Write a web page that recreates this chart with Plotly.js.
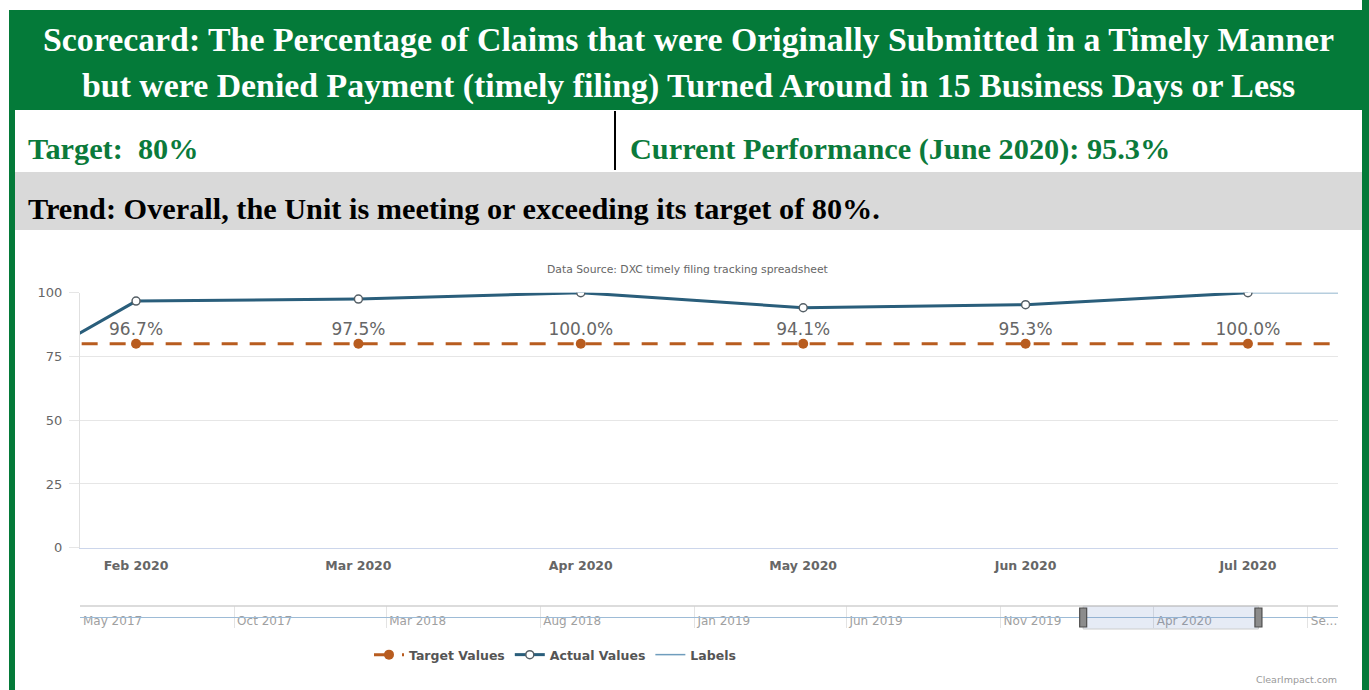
<!DOCTYPE html>
<html>
<head>
<meta charset="utf-8">
<script src="https://cdn.plot.ly/plotly-3.0.1.min.js"></script>
<style>
  html, body { margin: 0; padding: 0; background: #ffffff; }
  #chart { width: 1369px; height: 690px; }
</style>
</head>
<body>
<div id="chart"></div>
<script>
// ---------------- data ----------------
const months = ['Jan 2020', 'Feb 2020', 'Mar 2020', 'Apr 2020', 'May 2020', 'Jun 2020', 'Jul 2020', 'Aug 2020'];
const actualValues = [47, 96.7, 97.5, 100, 94.1, 95.3, 100, null];
const targetValues = [80, 80, 80, 80, 80, 80, 80, 80];
const labelsValues = [47, 96.7, 97.5, 100, 94.1, 95.3, 100, 100];
const labelMonths = ['Feb 2020', 'Mar 2020', 'Apr 2020', 'May 2020', 'Jun 2020', 'Jul 2020'];
const labelTexts = ['96.7%', '97.5%', '100.0%', '94.1%', '95.3%', '100.0%'];
const yTicks = [0, 25, 50, 75, 100];
const navTickDates = ['2017-05-01', '2017-10-01', '2018-03-01', '2018-08-01', '2019-01-01', '2019-06-01', '2019-11-01', '2020-04-01', '2020-09-01'];
const navTickLabels = ['May 2017', 'Oct 2017', 'Mar 2018', 'Aug 2018', 'Jan 2019', 'Jun 2019', 'Nov 2019', 'Apr 2020', 'Se...'];
const navRange = ['2017-05-01', '2020-10-01'];
const navSelected = ['2020-01-22', '2020-07-14'];

const titleLine1 = 'Scorecard: The Percentage of Claims that were Originally Submitted in a Timely Manner';
const titleLine2 = 'but were Denied Payment (timely filing) Turned Around in 15 Business Days or Less';
const targetText = 'Target:\u00a0 80%';
const currentText = 'Current Performance (June 2020): 95.3%';
const trendText = 'Trend: Overall, the Unit is meeting or exceeding its target of 80%.';
const sourceText = 'Data Source: DXC timely filing tracking spreadsheet';
const creditText = 'ClearImpact.com';

// ---------------- helpers ----------------
const W = 1369, H = 690;
const px = x => x / W;
const py = y => 1 - y / H;
const GREEN = '#047a39';
const SERIF = 'Liberation Serif';
const SANS = 'DejaVu Sans';

const cvs = document.createElement('canvas').getContext('2d');
function fitSize(text, family, weight, targetWidth) {
  cvs.font = weight + ' 100px "' + family + '"';
  const w = cvs.measureText(text).width;
  return 100 * targetWidth / w;
}
const titleSize = fitSize(titleLine1, SERIF, 'bold', 1293);
const trendSize = fitSize(trendText, SERIF, 'bold', 874);
const currentSize = fitSize(currentText, SERIF, 'bold', 527);
const rowSize = (trendSize + currentSize) / 2;

// ---------------- traces ----------------
const traces = [
  {
    type: 'scatter', mode: 'lines', name: 'Labels',
    x: months, y: labelsValues,
    line: { color: '#6f9dbd', width: 1.5 },
    legendrank: 3, hoverinfo: 'skip'
  },
  {
    type: 'scatter', mode: 'lines+markers', name: 'Target Values',
    x: months, y: targetValues,
    line: { color: '#b85c1f', width: 3, dash: '16px,12px' },
    marker: { color: '#b85c1f', size: 10, symbol: 'circle' },
    legendrank: 1
  },
  {
    type: 'scatter', mode: 'lines+markers', name: 'Actual Values',
    x: months, y: actualValues,
    line: { color: '#2a5e7b', width: 3 },
    marker: { color: '#ffffff', size: 8, line: { color: '#555f66', width: 1.5 } },
    legendrank: 2
  },
  {
    type: 'scatter', mode: 'text', showlegend: false, hoverinfo: 'skip',
    x: labelMonths, y: labelMonths.map(() => 85),
    text: labelTexts, textposition: 'middle center',
    textfont: { family: SANS, size: 17, color: '#666666' }
  }
];

// ---------------- layout ----------------
const shapes = [
  { type: 'rect', xref: 'paper', yref: 'paper', x0: px(1362), x1: 1, y0: 0, y1: 1, fillcolor: GREEN, line: { width: 0 }, layer: 'below' },
  { type: 'rect', xref: 'paper', yref: 'paper', x0: px(9), x1: 1, y0: py(110), y1: py(10), fillcolor: GREEN, line: { width: 0 }, layer: 'below' },
  { type: 'rect', xref: 'paper', yref: 'paper', x0: px(9), x1: px(15), y0: 0, y1: py(10), fillcolor: GREEN, line: { width: 0 }, layer: 'below' },
  { type: 'rect', xref: 'paper', yref: 'paper', x0: px(15), x1: px(1362), y0: py(230), y1: py(172), fillcolor: '#d9d9d9', line: { width: 0 }, layer: 'below' },
  { type: 'line', xref: 'paper', yref: 'paper', x0: px(615), x1: px(615), y0: py(170), y1: py(111), line: { color: '#000000', width: 2 } },
  { type: 'line', xref: 'x2 domain', yref: 'paper', x0: 0, x1: 1, y0: py(606), y1: py(606), line: { color: '#d0d0d0', width: 1.5 } },
  { type: 'line', xref: 'x2 domain', yref: 'paper', x0: 0, x1: 1, y0: py(617.5), y1: py(617.5), line: { color: '#9dbbd6', width: 1 } },
  { type: 'rect', xref: 'x2', yref: 'paper', x0: navSelected[0], x1: navSelected[1], y0: py(629), y1: py(606), fillcolor: 'rgba(102,133,194,0.16)', line: { color: '#cccccc', width: 1 } },
  { type: 'rect', xref: 'x2', yref: 'paper', xsizemode: 'pixel', xanchor: navSelected[0], x0: -3.5, x1: 3.5, y0: py(627), y1: py(608), fillcolor: '#8c8c8c', line: { color: '#4d4d4d', width: 1.2 } },
  { type: 'rect', xref: 'x2', yref: 'paper', xsizemode: 'pixel', xanchor: navSelected[1], x0: -3.5, x1: 3.5, y0: py(627), y1: py(608), fillcolor: '#8c8c8c', line: { color: '#4d4d4d', width: 1.2 } }
];

const annotations = [
  { text: '<b>' + titleLine1 + '</b>', xref: 'paper', yref: 'paper', x: px(688), y: py(39), xanchor: 'center', yanchor: 'middle', showarrow: false, font: { family: SERIF, size: titleSize, color: '#ffffff' } },
  { text: '<b>' + titleLine2 + '</b>', xref: 'paper', yref: 'paper', x: px(688), y: py(86.5), xanchor: 'center', yanchor: 'middle', showarrow: false, font: { family: SERIF, size: titleSize, color: '#ffffff' } },
  { text: '<b>' + targetText + '</b>', xref: 'paper', yref: 'paper', x: px(26), y: py(149), xanchor: 'left', yanchor: 'middle', showarrow: false, font: { family: SERIF, size: rowSize, color: '#0b7a3b' } },
  { text: '<b>' + currentText + '</b>', xref: 'paper', yref: 'paper', x: px(628), y: py(149), xanchor: 'left', yanchor: 'middle', showarrow: false, font: { family: SERIF, size: rowSize, color: '#0b7a3b' } },
  { text: '<b>' + trendText + '</b>', xref: 'paper', yref: 'paper', x: px(26), y: py(209), xanchor: 'left', yanchor: 'middle', showarrow: false, font: { family: SERIF, size: rowSize, color: '#000000' } },
  { text: sourceText, xref: 'paper', yref: 'paper', x: px(687), y: py(269), xanchor: 'center', yanchor: 'middle', showarrow: false, font: { family: SANS, size: 10.8, color: '#666666' } },
  { text: creditText, xref: 'paper', yref: 'paper', x: px(1339), y: py(679), xanchor: 'right', yanchor: 'middle', showarrow: false, font: { family: SANS, size: 9.5, color: '#999999' } }
];

const layout = {
  width: W, height: H,
  margin: { l: 0, r: 0, t: 0, b: 0 },
  paper_bgcolor: '#ffffff',
  plot_bgcolor: 'rgba(0,0,0,0)',
  showlegend: true,
  hovermode: false,
  xaxis: {
    type: 'category', categoryorder: 'array', categoryarray: months,
    range: [0.748, 6.405],
    domain: [px(80), px(1338)],
    anchor: 'y',
    showgrid: false, zeroline: false,
    showline: true, linecolor: '#ccd6eb', linewidth: 1,
    ticks: '', ticklabelstandoff: 6,
    tickfont: { family: SANS, size: 12.5, color: '#666666', weight: 'bold' },
    fixedrange: true
  },
  yaxis: {
    range: [0, 100],
    domain: [py(547.7), py(292.7)],
    anchor: 'x',
    tickmode: 'array', tickvals: yTicks,
    showgrid: true, gridcolor: '#e6e6e6', gridwidth: 1,
    zeroline: false,
    showline: true, linecolor: '#e0e0e0', linewidth: 1,
    ticks: 'outside', ticklen: 10, tickcolor: '#e6e6e6',
    ticklabelstandoff: 4,
    tickfont: { family: SANS, size: 13, color: '#666666' },
    fixedrange: true
  },
  xaxis2: {
    type: 'date', range: navRange,
    domain: [px(80), px(1338)],
    anchor: 'y2',
    tickmode: 'array', tickvals: navTickDates, ticktext: navTickLabels,
    ticklabelposition: 'inside right',
    ticklabelstandoff: -5, ticklabelshift: 3,
    showgrid: true, gridcolor: '#e3e3e3', gridwidth: 1,
    showline: false, zeroline: false, ticks: '',
    tickfont: { family: SANS, size: 12, color: '#a0a0a0' },
    fixedrange: true
  },
  yaxis2: {
    range: [0, 1],
    domain: [py(628), py(606)],
    anchor: 'x2',
    visible: false, showgrid: false, zeroline: false,
    fixedrange: true
  },
  legend: {
    orientation: 'h',
    x: px(555), xanchor: 'center',
    y: py(655), yanchor: 'middle',
    bgcolor: 'rgba(0,0,0,0)',
    font: { family: SANS, size: 12.5, color: '#555555', weight: 'bold' },
    itemclick: false, itemdoubleclick: false
  },
  shapes: shapes,
  annotations: annotations
};

Plotly.newPlot('chart', traces, layout, { displayModeBar: false, staticPlot: true });
</script>
</body>
</html>
